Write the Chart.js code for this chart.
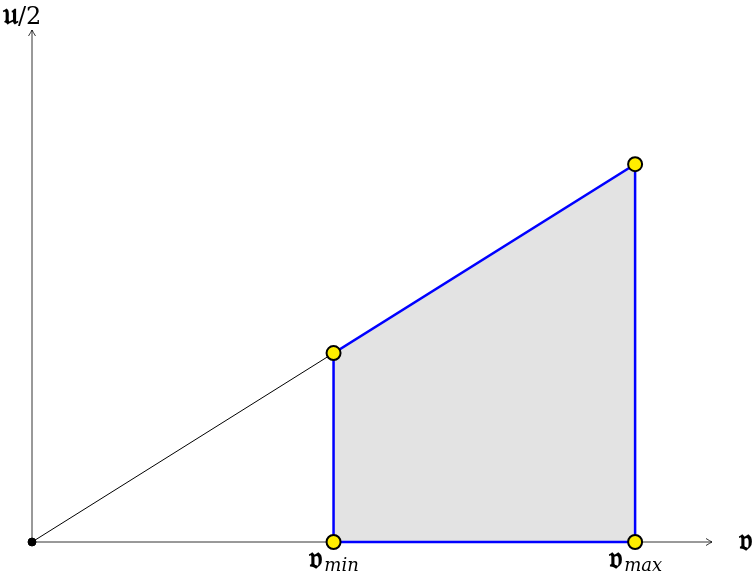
<!DOCTYPE html>
<html>
<head>
<meta charset="utf-8">
<script src="https://cdn.jsdelivr.net/npm/chart.js@4"></script>
<style>
  html, body { margin: 0; padding: 0; background: #fff; }
  #wrap { width: 756px; height: 579px; }
</style>
</head>
<body>
<div id="wrap"><canvas id="c"></canvas></div>
<script>
// data
const vMin = 1;
const vMax = 2;
const ray = [{ x: 0, y: 0 }, { x: 1, y: 1 }];
const region = [{ x: 1, y: 0 }, { x: 1, y: 1 }, { x: 2, y: 2 }, { x: 2, y: 0 }, { x: 1, y: 0 }];
const topEdge = [{ x: 1, y: 1 }, { x: 2, y: 2 }];
const corners = [{ x: 1, y: 0 }, { x: 1, y: 1 }, { x: 2, y: 2 }, { x: 2, y: 0 }];
const origin = [{ x: 0, y: 0 }];
const xMax = 2.255;
const yMax = 2.71;

const FRAK_U = '\u{1D532}';
const FRAK_V = '\u{1D533}';
const serif = '"DejaVu Serif", "Liberation Serif", serif';
const frakFont = 'bold 31px ' + serif;

const axisArrows = {
  id: 'axisArrows',
  beforeDatasetsDraw(chart) {
    const { ctx, scales: { x, y } } = chart;
    const x0 = x.getPixelForValue(0), y0 = y.getPixelForValue(0);
    const xe = x.getPixelForValue(xMax), ye = y.getPixelForValue(yMax);
    ctx.save();
    ctx.strokeStyle = '#000';
    ctx.lineWidth = 0.8;
    ctx.beginPath();
    ctx.moveTo(x0, y0); ctx.lineTo(xe, y0);
    ctx.moveTo(x0, y0); ctx.lineTo(x0, ye);
    // arrow heads
    ctx.moveTo(xe - 6, y0 - 3.5); ctx.quadraticCurveTo(xe - 2, y0 - 1, xe, y0); ctx.quadraticCurveTo(xe - 2, y0 + 1, xe - 6, y0 + 3.5);
    ctx.moveTo(x0 - 3.5, ye + 6); ctx.quadraticCurveTo(x0 - 1, ye + 2, x0, ye); ctx.quadraticCurveTo(x0 + 1, ye + 2, x0 + 3.5, ye + 6);
    ctx.stroke();
    ctx.restore();
  },
  afterDraw(chart) {
    const { ctx, scales: { x, y } } = chart;
    const y0 = y.getPixelForValue(0);
    const xe = x.getPixelForValue(xMax), ye = y.getPixelForValue(yMax);
    ctx.save();
    ctx.fillStyle = '#000';
    ctx.textBaseline = 'alphabetic';
    ctx.textAlign = 'left';
    ctx.font = frakFont;
    const wu = ctx.measureText(FRAK_U).width;
    ctx.fillText(FRAK_U, 3, ye - 6);
    ctx.font = '24px ' + serif;
    ctx.fillText('/2', 3 + wu, ye - 6);
    ctx.font = frakFont;
    ctx.fillText(FRAK_V, xe + 27, y0 + 8);

    const sub = (val, s) => {
      const px = x.getPixelForValue(val);
      ctx.font = frakFont;
      const w1 = ctx.measureText(FRAK_V).width;
      ctx.font = 'italic 18px ' + serif;
      const w2 = ctx.measureText(s).width;
      const left = px - (w1 + w2) / 2;
      ctx.font = frakFont;
      ctx.fillText(FRAK_V, left, y0 + 26);
      ctx.font = 'italic 18px ' + serif;
      ctx.fillText(s, left + w1 + 1, y0 + 29);
    };
    sub(vMin, 'min');
    sub(vMax, 'max');
    ctx.restore();
  }
};

new Chart(document.getElementById('c'), {
  type: 'scatter',
  data: {
    datasets: [
      {
        data: corners, order: 0, showLine: false, clip: false,
        pointRadius: 7, pointHoverRadius: 7, pointBorderWidth: 2,
        pointBackgroundColor: '#ffee00', pointBorderColor: '#000'
      },
      {
        data: origin, order: 1, showLine: false, clip: false,
        pointRadius: 4, pointBackgroundColor: '#000', pointBorderColor: '#000'
      },
      {
        data: region, order: 2, showLine: true, fill: false, pointRadius: 0, clip: false,
        borderColor: '#0000ff', borderWidth: 2.5, tension: 0
      },
      {
        data: ray, order: 3, showLine: true, fill: false, pointRadius: 0,
        borderColor: '#000', borderWidth: 1, tension: 0
      },
      {
        data: topEdge, order: 4, showLine: true, fill: 'origin', pointRadius: 0,
        borderWidth: 0, borderColor: 'rgba(0,0,0,0)', backgroundColor: '#e3e3e3', tension: 0
      }
    ]
  },
  options: {
    responsive: true,
    maintainAspectRatio: false,
    animation: false,
    layout: { padding: { left: 32, right: 44, top: 30, bottom: 37 } },
    plugins: { legend: { display: false }, tooltip: { enabled: false } },
    scales: {
      x: {
        type: 'linear', min: 0, max: xMax,
        grid: { display: false, drawTicks: false },
        border: { display: false },
        ticks: { display: false }
      },
      y: {
        type: 'linear', min: 0, max: yMax,
        grid: { display: false, drawTicks: false },
        border: { display: false },
        ticks: { display: false }
      }
    }
  },
  plugins: [axisArrows]
});
</script>
</body>
</html>
